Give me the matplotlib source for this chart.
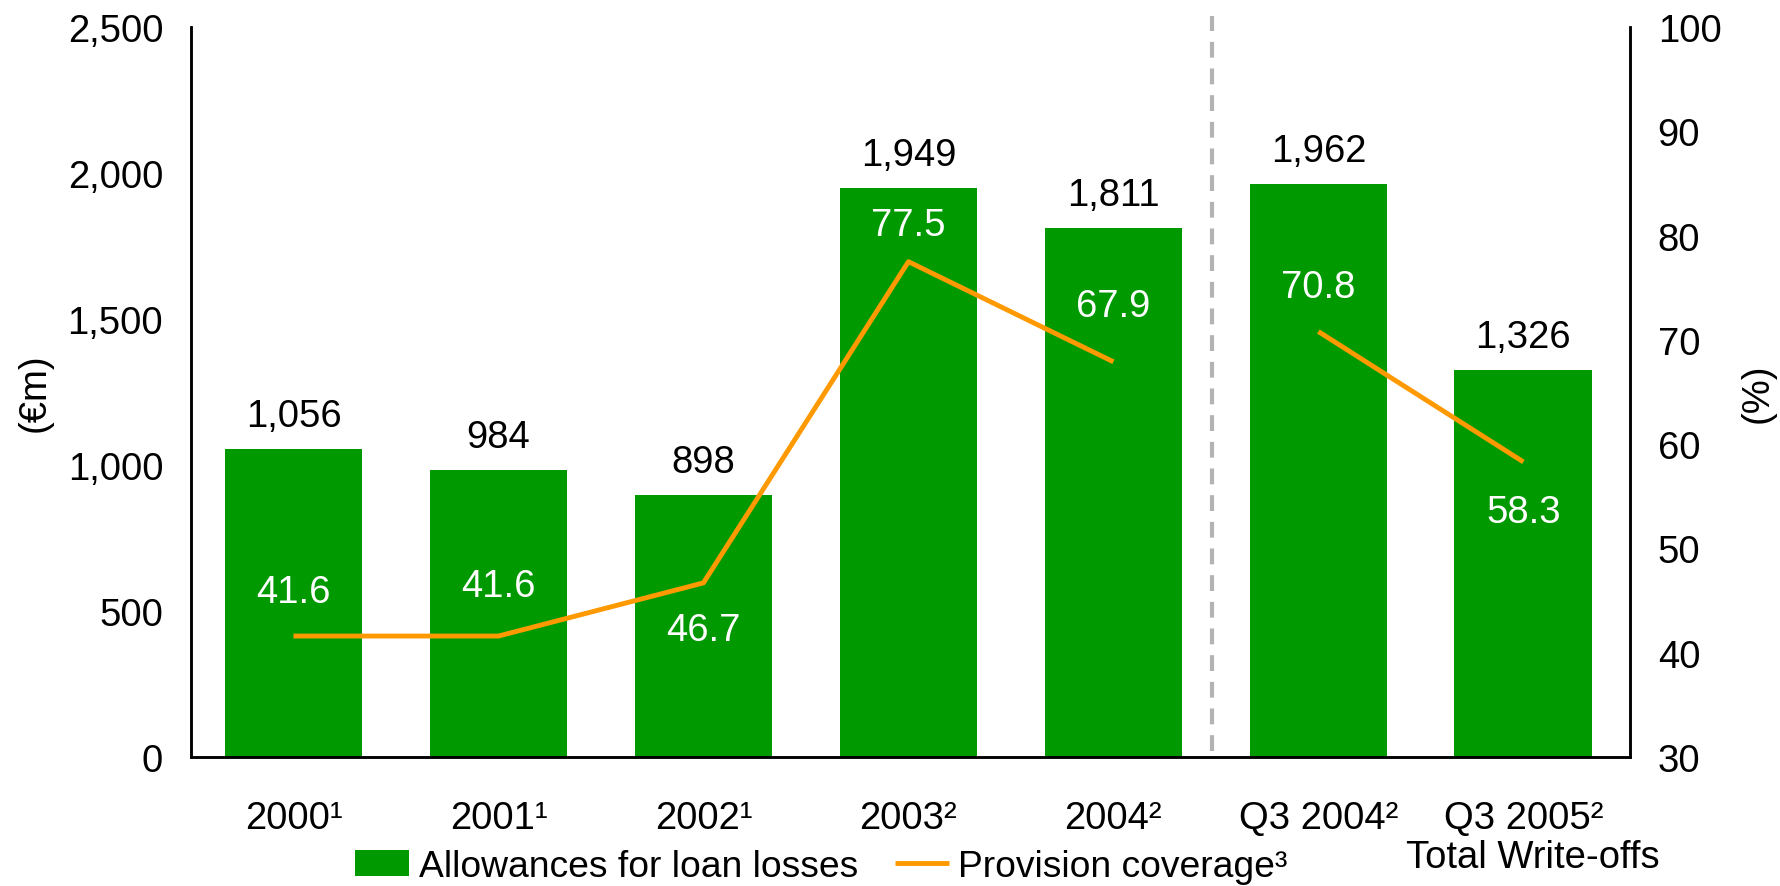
import matplotlib
matplotlib.use("Agg")
import matplotlib.pyplot as plt

plt.rcParams['font.family'] = ['Liberation Sans', 'DejaVu Sans']

# Allowances for loan losses (EUR m) and provision coverage (%)
periods = ['2000¹', '2001¹', '2002¹', '2003²', '2004²', 'Q3 2004²', 'Q3 2005²']
allowances = [1056, 984, 898, 1949, 1811, 1962, 1326]
coverage = [41.6, 41.6, 46.7, 77.5, 67.9, 70.8, 58.3]

# pixel offsets for the coverage labels (positive = above the line)
cov_label_offsets = [44, 50, -47, 37, 56, 45, -50]

GREEN = '#009900'
ORANGE = '#FF9900'
FS = 27.5

fig = plt.figure(figsize=(17.8, 8.87), dpi=100)
ax = fig.add_axes([0.1073, 0.1454, 0.8084, 0.823])
ax2 = ax.twinx()

x = list(range(len(periods)))
bars = ax.bar(x, allowances, width=0.672, color=GREEN, zorder=2)

for i, v in zip(x, allowances):
    ax.annotate(f"{v:,}", (i, v), xytext=(0, 33), textcoords='offset pixels',
                ha='center', va='center', fontsize=FS, color='black')

# annual figures and quarterly figures are separate line segments
line, = ax2.plot(x[:5], coverage[:5], color=ORANGE, lw=3.5, solid_capstyle='butt')
ax2.plot(x[5:], coverage[5:], color=ORANGE, lw=3.5, solid_capstyle='butt')

for i, v, off in zip(x, coverage, cov_label_offsets):
    ax2.annotate(f"{v:.1f}", (i, v), xytext=(0, off), textcoords='offset pixels',
                 ha='center', va='center', fontsize=FS, color='white')

# divider between annual and quarterly periods
ax.axvline(4.48, ymin=0.008, ymax=1.015, color='#B3B3B3', lw=3,
           dashes=(3.8, 2.6), clip_on=False, zorder=1)

ax.set_xlim(-0.5, 6.52)
ax.set_ylim(0, 2500)
ax2.set_ylim(30, 100)
ax.set_yticks([0, 500, 1000, 1500, 2000, 2500])
ax.set_yticklabels([f"{t:,}" for t in [0, 500, 1000, 1500, 2000, 2500]])
ax2.set_yticks(range(30, 101, 10))

ax.set_xticks(x)
ax.set_xticklabels(periods)

for a in (ax, ax2):
    a.spines['top'].set_visible(False)
    a.tick_params(length=0, labelsize=FS)
    for s in ('left', 'right', 'bottom'):
        a.spines[s].set_linewidth(1.8)
ax.tick_params(axis='x', pad=31)
ax.tick_params(axis='y', pad=20)
ax2.tick_params(axis='y', pad=20)

fig.text(0.0197, 0.557, '(€m)', rotation=90, ha='center', va='center', fontsize=FS)
fig.text(0.9876, 0.557, '(%)', rotation=90, ha='center', va='center', fontsize=FS)

fig.legend([bars, line], ['Allowances for loan losses', 'Provision coverage³'],
           loc='center', bbox_to_anchor=(0.4615, 0.022), ncol=2, frameon=False,
           fontsize=26.8, handlelength=1.45, handletextpad=0.25, columnspacing=1.0,
           borderpad=0)
fig.text(0.861, 0.033, 'Total Write-offs', ha='center', va='center', fontsize=FS)

fig.savefig('out.png', dpi=100)
